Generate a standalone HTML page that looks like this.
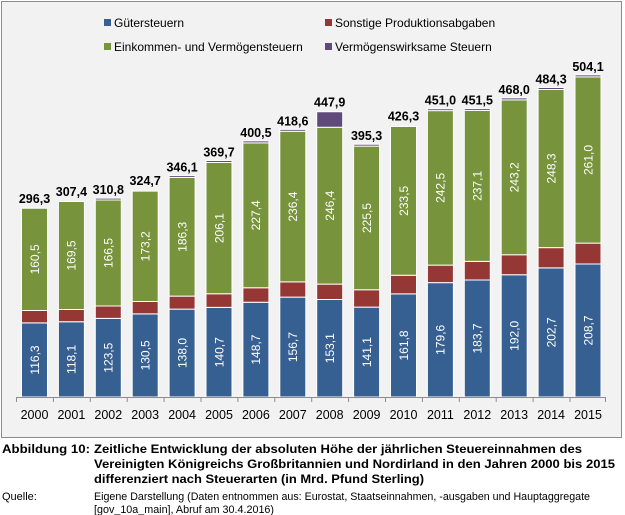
<!DOCTYPE html>
<html><head><meta charset="utf-8"><style>
html,body{margin:0;padding:0;background:#fff}
svg{display:block}
text{font-family:"Liberation Sans",sans-serif}
.t{font-weight:bold;font-size:12.5px;fill:#000;text-anchor:middle}
.v{font-size:12px;fill:#fff;text-anchor:middle}
.y{font-size:12.5px;fill:#000;text-anchor:middle}
.l{font-size:12px;fill:#000}
.c{font-size:12px;font-weight:bold;fill:#000}
.q{font-size:11px;fill:#000}
</style></head><body>
<svg width="625" height="515" viewBox="0 0 625 515" xmlns="http://www.w3.org/2000/svg">
<rect x="1.5" y="1.5" width="620" height="436" fill="#f2f2f2" stroke="#8c8c8c"/>
<rect x="104" y="19" width="7" height="7" fill="#376092"/><text class="l" x="114" y="27">Gütersteuern</text>
<rect x="325" y="19" width="7" height="7" fill="#953735"/><text class="l" x="335" y="27">Sonstige Produktionsabgaben</text>
<rect x="104" y="43" width="7" height="7" fill="#77933c"/><text class="l" x="114" y="51">Einkommen- und Vermögensteuern</text>
<rect x="325" y="43" width="7" height="7" fill="#604a7b"/><text class="l" x="335" y="51">Vermögenswirksame Steuern</text>
<g transform="translate(0,397) scale(1,-0.637)" stroke="#fff" stroke-width="1">
<g fill="#376092">
<rect x="21.5" y="0" width="26" height="116.3" vector-effect="non-scaling-stroke"/>
<rect x="58.4" y="0" width="26" height="118.1" vector-effect="non-scaling-stroke"/>
<rect x="95.3" y="0" width="26" height="123.5" vector-effect="non-scaling-stroke"/>
<rect x="132.2" y="0" width="26" height="130.5" vector-effect="non-scaling-stroke"/>
<rect x="169.1" y="0" width="26" height="138.0" vector-effect="non-scaling-stroke"/>
<rect x="206" y="0" width="26" height="140.7" vector-effect="non-scaling-stroke"/>
<rect x="242.9" y="0" width="26" height="148.7" vector-effect="non-scaling-stroke"/>
<rect x="279.8" y="0" width="26" height="156.7" vector-effect="non-scaling-stroke"/>
<rect x="316.7" y="0" width="26" height="153.1" vector-effect="non-scaling-stroke"/>
<rect x="353.6" y="0" width="26" height="141.1" vector-effect="non-scaling-stroke"/>
<rect x="390.5" y="0" width="26" height="161.8" vector-effect="non-scaling-stroke"/>
<rect x="427.4" y="0" width="26" height="179.6" vector-effect="non-scaling-stroke"/>
<rect x="464.3" y="0" width="26" height="183.7" vector-effect="non-scaling-stroke"/>
<rect x="501.2" y="0" width="26" height="192.0" vector-effect="non-scaling-stroke"/>
<rect x="538.1" y="0" width="26" height="202.7" vector-effect="non-scaling-stroke"/>
<rect x="575" y="0" width="26" height="208.7" vector-effect="non-scaling-stroke"/>
</g>
<g fill="#953735">
<rect x="21.5" y="116.3" width="26" height="19.5" vector-effect="non-scaling-stroke"/>
<rect x="58.4" y="118.1" width="26" height="19.3" vector-effect="non-scaling-stroke"/>
<rect x="95.3" y="123.5" width="26" height="19.3" vector-effect="non-scaling-stroke"/>
<rect x="132.2" y="130.5" width="26" height="19.5" vector-effect="non-scaling-stroke"/>
<rect x="169.1" y="138.0" width="26" height="20.4" vector-effect="non-scaling-stroke"/>
<rect x="206" y="140.7" width="26" height="21.4" vector-effect="non-scaling-stroke"/>
<rect x="242.9" y="148.7" width="26" height="22.9" vector-effect="non-scaling-stroke"/>
<rect x="279.8" y="156.7" width="26" height="24.0" vector-effect="non-scaling-stroke"/>
<rect x="316.7" y="153.1" width="26" height="24.0" vector-effect="non-scaling-stroke"/>
<rect x="353.6" y="141.1" width="26" height="27.2" vector-effect="non-scaling-stroke"/>
<rect x="390.5" y="161.8" width="26" height="29.4" vector-effect="non-scaling-stroke"/>
<rect x="427.4" y="179.6" width="26" height="27.4" vector-effect="non-scaling-stroke"/>
<rect x="464.3" y="183.7" width="26" height="29.2" vector-effect="non-scaling-stroke"/>
<rect x="501.2" y="192.0" width="26" height="31.3" vector-effect="non-scaling-stroke"/>
<rect x="538.1" y="202.7" width="26" height="31.8" vector-effect="non-scaling-stroke"/>
<rect x="575" y="208.7" width="26" height="32.9" vector-effect="non-scaling-stroke"/>
</g>
<g fill="#77933c">
<rect x="21.5" y="135.8" width="26" height="160.5" vector-effect="non-scaling-stroke"/>
<rect x="58.4" y="137.4" width="26" height="169.5" vector-effect="non-scaling-stroke"/>
<rect x="95.3" y="142.8" width="26" height="166.5" vector-effect="non-scaling-stroke"/>
<rect x="132.2" y="150.0" width="26" height="173.2" vector-effect="non-scaling-stroke"/>
<rect x="169.1" y="158.4" width="26" height="186.3" vector-effect="non-scaling-stroke"/>
<rect x="206" y="162.1" width="26" height="206.1" vector-effect="non-scaling-stroke"/>
<rect x="242.9" y="171.6" width="26" height="227.4" vector-effect="non-scaling-stroke"/>
<rect x="279.8" y="180.7" width="26" height="236.4" vector-effect="non-scaling-stroke"/>
<rect x="316.7" y="177.1" width="26" height="246.4" vector-effect="non-scaling-stroke"/>
<rect x="353.6" y="168.3" width="26" height="225.5" vector-effect="non-scaling-stroke"/>
<rect x="390.5" y="191.2" width="26" height="233.5" vector-effect="non-scaling-stroke"/>
<rect x="427.4" y="207.0" width="26" height="242.5" vector-effect="non-scaling-stroke"/>
<rect x="464.3" y="212.9" width="26" height="237.1" vector-effect="non-scaling-stroke"/>
<rect x="501.2" y="223.3" width="26" height="243.2" vector-effect="non-scaling-stroke"/>
<rect x="538.1" y="234.5" width="26" height="248.3" vector-effect="non-scaling-stroke"/>
<rect x="575" y="241.6" width="26" height="261.0" vector-effect="non-scaling-stroke"/>
</g>
<g fill="#604a7b">
<rect x="95.3" y="309.3" width="26" height="3" vector-effect="non-scaling-stroke"/>
<rect x="169.1" y="344.7" width="26" height="3" vector-effect="non-scaling-stroke"/>
<rect x="206" y="368.2" width="26" height="3" vector-effect="non-scaling-stroke"/>
<rect x="242.9" y="399.0" width="26" height="3" vector-effect="non-scaling-stroke"/>
<rect x="279.8" y="417.1" width="26" height="3" vector-effect="non-scaling-stroke"/>
<rect x="316.7" y="423.5" width="26" height="24.4" vector-effect="non-scaling-stroke"/>
<rect x="353.6" y="393.8" width="26" height="3" vector-effect="non-scaling-stroke"/>
<rect x="427.4" y="449.5" width="26" height="3" vector-effect="non-scaling-stroke"/>
<rect x="464.3" y="450.0" width="26" height="3" vector-effect="non-scaling-stroke"/>
<rect x="501.2" y="466.5" width="26" height="3" vector-effect="non-scaling-stroke"/>
<rect x="538.1" y="482.8" width="26" height="3" vector-effect="non-scaling-stroke"/>
<rect x="575" y="502.6" width="26" height="3" vector-effect="non-scaling-stroke"/>
</g>
</g>
<g stroke="#8c8c8c" stroke-width="1">
<line x1="16" y1="397.5" x2="606" y2="397.5"/>
<path d="M16.5 397v5M53.4 397v5M90.3 397v5M127.2 397v5M164.1 397v5M201 397v5M237.9 397v5M274.8 397v5M311.7 397v5M348.6 397v5M385.5 397v5M422.4 397v5M459.3 397v5M496.2 397v5M533.1 397v5M570 397v5M605.5 397v5"/>
</g>
<g class="y">
<text x="34.5" y="419">2000</text><text x="71.4" y="419">2001</text><text x="108.3" y="419">2002</text><text x="145.2" y="419">2003</text><text x="182.1" y="419">2004</text><text x="219" y="419">2005</text><text x="255.9" y="419">2006</text><text x="292.8" y="419">2007</text><text x="329.7" y="419">2008</text><text x="366.6" y="419">2009</text><text x="403.5" y="419">2010</text><text x="440.4" y="419">2011</text><text x="477.3" y="419">2012</text><text x="514.2" y="419">2013</text><text x="551.1" y="419">2014</text><text x="588" y="419">2015</text>
</g>
<g class="t">
<text x="34.5" y="203">296,3</text><text x="71.4" y="196">307,4</text><text x="108.3" y="194">310,8</text><text x="145.2" y="185">324,7</text><text x="182.1" y="171.5">346,1</text><text x="219" y="156.5">369,7</text><text x="255.9" y="137">400,5</text><text x="292.8" y="125.5">418,6</text><text x="329.7" y="106.5">447,9</text><text x="366.6" y="140">395,3</text><text x="403.5" y="120.5">426,3</text><text x="440.4" y="104.5">451,0</text><text x="477.3" y="104.5">451,5</text><text x="514.2" y="94">468,0</text><text x="551.1" y="83.5">484,3</text><text x="588" y="71">504,1</text>
</g>
<g class="v">
<text transform="translate(38.8,360) rotate(-90)">116,3</text>
<text transform="translate(75.7,359.4) rotate(-90)">118,1</text>
<text transform="translate(112.6,357.7) rotate(-90)">123,5</text>
<text transform="translate(149.5,355.4) rotate(-90)">130,5</text>
<text transform="translate(186.4,353) rotate(-90)">138,0</text>
<text transform="translate(223.3,352.2) rotate(-90)">140,7</text>
<text transform="translate(260.2,349.6) rotate(-90)">148,7</text>
<text transform="translate(297.1,347.1) rotate(-90)">156,7</text>
<text transform="translate(334,348.2) rotate(-90)">153,1</text>
<text transform="translate(370.9,352.1) rotate(-90)">141,1</text>
<text transform="translate(407.8,345.5) rotate(-90)">161,8</text>
<text transform="translate(444.7,339.8) rotate(-90)">179,6</text>
<text transform="translate(481.6,338.5) rotate(-90)">183,7</text>
<text transform="translate(518.5,335.8) rotate(-90)">192,0</text>
<text transform="translate(555.4,332.4) rotate(-90)">202,7</text>
<text transform="translate(592.3,330.5) rotate(-90)">208,7</text>
</g>
<g class="v">
<text transform="translate(38.8,259.4) rotate(-90)">160,5</text>
<text transform="translate(75.7,255.5) rotate(-90)">169,5</text>
<text transform="translate(112.6,253) rotate(-90)">166,5</text>
<text transform="translate(149.5,246.3) rotate(-90)">173,2</text>
<text transform="translate(186.4,236.8) rotate(-90)">186,3</text>
<text transform="translate(223.3,228.1) rotate(-90)">206,1</text>
<text transform="translate(260.2,215.3) rotate(-90)">227,4</text>
<text transform="translate(297.1,206.6) rotate(-90)">236,4</text>
<text transform="translate(334,205.7) rotate(-90)">246,4</text>
<text transform="translate(370.9,218) rotate(-90)">225,5</text>
<text transform="translate(407.8,200.8) rotate(-90)">233,5</text>
<text transform="translate(444.7,187.9) rotate(-90)">242,5</text>
<text transform="translate(481.6,185.9) rotate(-90)">237,1</text>
<text transform="translate(518.5,177.3) rotate(-90)">243,2</text>
<text transform="translate(555.4,168.5) rotate(-90)">248,3</text>
<text transform="translate(592.3,160) rotate(-90)">261,0</text>
</g>
<text class="c" x="2" y="453" textLength="88" lengthAdjust="spacingAndGlyphs">Abbildung 10:</text>
<text class="c" x="94" y="453" textLength="488" lengthAdjust="spacingAndGlyphs">Zeitliche Entwicklung der absoluten Höhe der jährlichen Steuereinnahmen des</text>
<text class="c" x="94" y="468" textLength="521" lengthAdjust="spacingAndGlyphs">Vereinigten Königreichs Großbritannien und Nordirland in den Jahren 2000 bis 2015</text>
<text class="c" x="94" y="483" textLength="330" lengthAdjust="spacingAndGlyphs">differenziert nach Steuerarten (in Mrd. Pfund Sterling)</text>
<text class="q" x="2" y="500">Quelle:</text>
<text class="q" x="94" y="500" textLength="496" lengthAdjust="spacingAndGlyphs">Eigene Darstellung (Daten entnommen aus: Eurostat, Staatseinnahmen, -ausgaben und Hauptaggregate</text>
<text class="q" x="94" y="513" textLength="180" lengthAdjust="spacingAndGlyphs">[gov_10a_main], Abruf am 30.4.2016)</text>
</svg>
</body></html>
